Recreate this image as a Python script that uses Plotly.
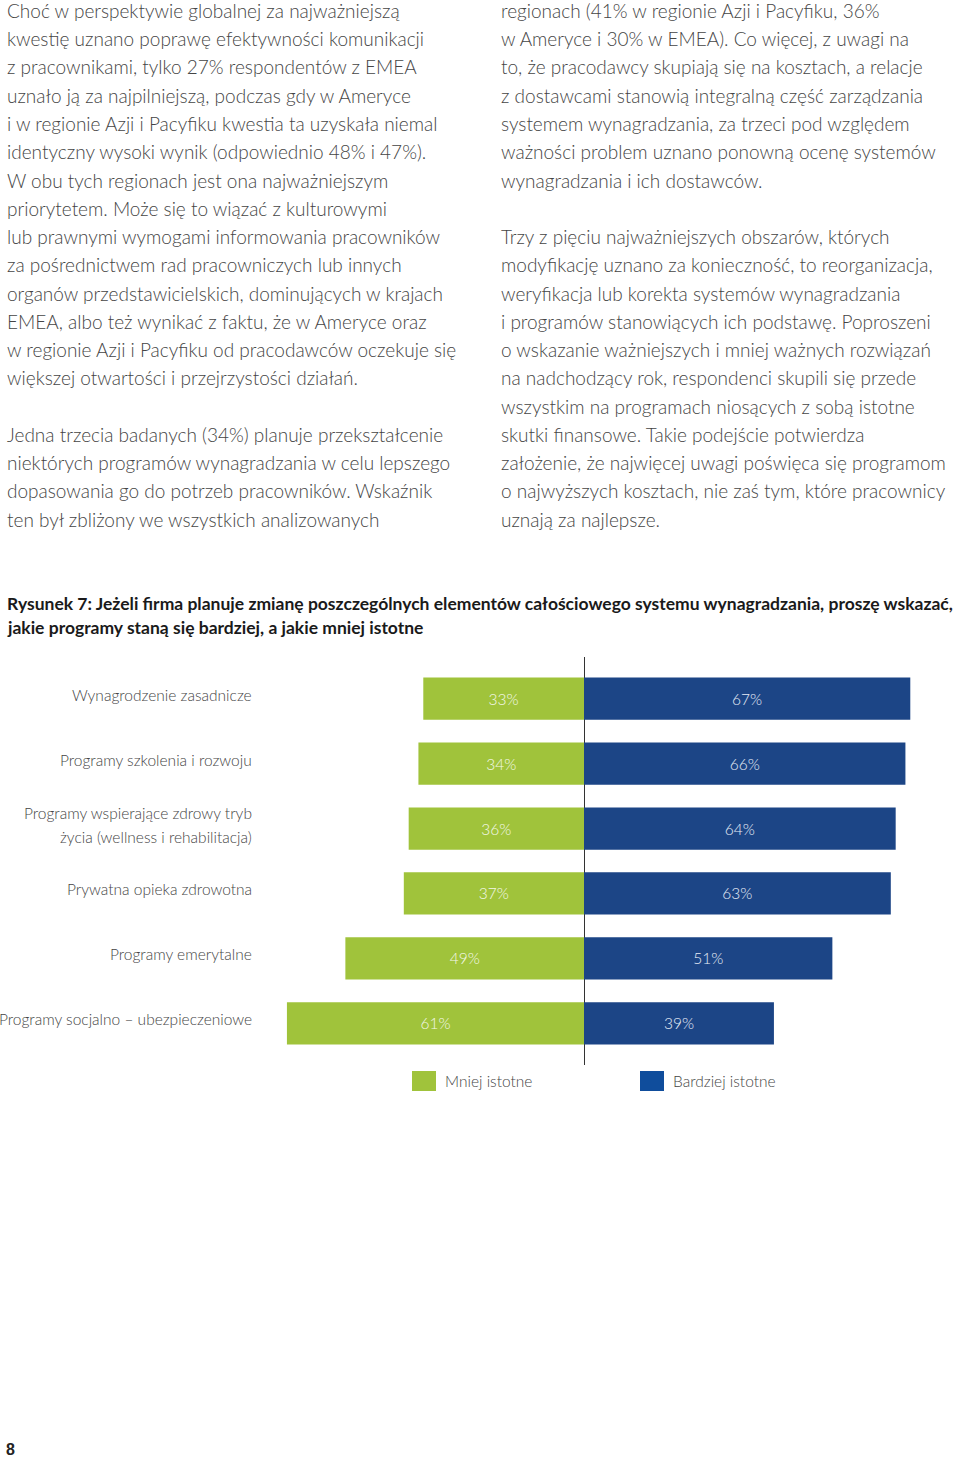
import plotly.graph_objects as go

# ---------------- data ----------------
categories = [
    "Wynagrodzenie zasadnicze",
    "Programy szkolenia i rozwoju",
    "Programy wspierające zdrowy tryb<br>życia (wellness i rehabilitacja)",
    "Prywatna opieka zdrowotna",
    "Programy emerytalne",
    "Programy socjalno – ubezpieczeniowe",
]
less_important = [33, 34, 36, 37, 49, 61]   # Mniej istotne
more_important = [67, 66, 64, 63, 51, 39]   # Bardziej istotne
series_names = ["Mniej istotne", "Bardziej istotne"]

title_lines = [
    "Rysunek 7: Jeżeli firma planuje zmianę poszczególnych elementów całościowego systemu wynagradzania, proszę wskazać,",
    "jakie programy staną się bardziej, a jakie mniej istotne",
]

left_col = [
    "Choć w perspektywie globalnej za najważniejszą",
    "kwestię uznano poprawę efektywności komunikacji",
    "z pracownikami, tylko 27% respondentów z EMEA",
    "uznało ją za najpilniejszą, podczas gdy w Ameryce",
    "i w regionie Azji i Pacyfiku kwestia ta uzyskała niemal",
    "identyczny wysoki wynik (odpowiednio 48% i 47%).",
    "W obu tych regionach jest ona najważniejszym",
    "priorytetem. Może się to wiązać z kulturowymi",
    "lub prawnymi wymogami informowania pracowników",
    "za pośrednictwem rad pracowniczych lub innych",
    "organów przedstawicielskich, dominujących w krajach",
    "EMEA, albo też wynikać z faktu, że w Ameryce oraz",
    "w regionie Azji i Pacyfiku od pracodawców oczekuje się",
    "większej otwartości i przejrzystości działań.",
    "",
    "Jedna trzecia badanych (34%) planuje przekształcenie",
    "niektórych programów wynagradzania w celu lepszego",
    "dopasowania go do potrzeb pracowników. Wskaźnik",
    "ten był zbliżony we wszystkich analizowanych",
]

right_col = [
    "regionach (41% w regionie Azji i Pacyfiku, 36%",
    "w Ameryce i 30% w EMEA). Co więcej, z uwagi na",
    "to, że pracodawcy skupiają się na kosztach, a relacje",
    "z dostawcami stanowią integralną część zarządzania",
    "systemem wynagradzania, za trzeci pod względem",
    "ważności problem uznano ponowną ocenę systemów",
    "wynagradzania i ich dostawców.",
    "",
    "Trzy z pięciu najważniejszych obszarów, których",
    "modyfikację uznano za konieczność, to reorganizacja,",
    "weryfikacja lub korekta systemów wynagradzania",
    "i programów stanowiących ich podstawę. Poproszeni",
    "o wskazanie ważniejszych i mniej ważnych rozwiązań",
    "na nadchodzący rok, respondenci skupili się przede",
    "wszystkim na programach niosących z sobą istotne",
    "skutki finansowe. Takie podejście potwierdza",
    "założenie, że najwięcej uwagi poświęca się programom",
    "o najwyższych kosztach, nie zaś tym, które pracownicy",
    "uznają za najlepsze.",
]

page_number = "8"

# ---------------- styles ----------------
W, H = 960, 1458
GREEN = "#a0c33b"
BLUE = "#1c4586"
LEGEND_BLUE = "#0f4d9c"
BODY_FONT = "Lato, 'Open Sans', sans-serif"
TEXT_COLOR = "#454545"


def yp(px):
    return 1 - px / H


def xp(px):
    return px / W


fig = go.Figure()
fig.add_trace(go.Bar(
    y=categories, x=[-v for v in less_important], orientation="h",
    name=series_names[0], marker=dict(color=GREEN, line=dict(width=0)),
    text=[f"{v}%" for v in less_important], textposition="inside",
    insidetextanchor="middle", textangle=0,
    textfont=dict(color="#f4f8e8", size=15.5, family=BODY_FONT, weight=300),
    width=0.65, showlegend=False, hoverinfo="skip",
))
fig.add_trace(go.Bar(
    y=categories, x=more_important, orientation="h",
    name=series_names[1], marker=dict(color=BLUE, line=dict(width=0)),
    text=[f"{v}%" for v in more_important], textposition="inside",
    insidetextanchor="middle", textangle=0,
    textfont=dict(color="#e6ecf6", size=15.5, family=BODY_FONT, weight=300),
    width=0.65, showlegend=False, hoverinfo="skip",
))

annotations = []

# category labels (right aligned)
for i, cat in enumerate(categories):
    lines = cat.split("<br>")
    n = len(lines)
    for j, ln in enumerate(lines):
        annotations.append(dict(
            x=xp(254), xref="paper", y=cat, yref="y",
            text=ln, showarrow=False, xanchor="right", yanchor="middle",
            yshift=((n - 1) / 2 - j) * 24 + 4,
            font=dict(family=BODY_FONT, size=15.5, color=TEXT_COLOR, weight=300),
        ))

# body text columns
for col, x0 in ((left_col, 5), (right_col, 499)):
    for i, ln in enumerate(col):
        if not ln:
            continue
        annotations.append(dict(
            x=xp(x0), xref="paper", y=yp(10.5 + 28.25 * i), yref="paper",
            text=ln, showarrow=False, xanchor="left", yanchor="middle",
            font=dict(family=BODY_FONT, size=19, color=TEXT_COLOR, weight=300),
        ))

# title
for i, ln in enumerate(title_lines):
    annotations.append(dict(
        x=xp(5), xref="paper", y=yp(603 + 24 * i), yref="paper",
        text=ln, showarrow=False, xanchor="left", yanchor="middle",
        font=dict(family="Lato, sans-serif", size=17.5, color="#1a1a1a", weight=700),
    ))

# legend
shapes = []
for name, color, sx in ((series_names[0], GREEN, 412), (series_names[1], LEGEND_BLUE, 640)):
    shapes.append(dict(type="rect", xref="paper", yref="paper",
                       x0=xp(sx), x1=xp(sx + 24), y0=yp(1091), y1=yp(1071),
                       fillcolor=color, line=dict(width=0)))
    annotations.append(dict(
        x=xp(sx + 31), xref="paper", y=yp(1081), yref="paper",
        text=name, showarrow=False, xanchor="left", yanchor="middle",
        font=dict(family=BODY_FONT, size=15.5, color=TEXT_COLOR, weight=300),
    ))

# page number
annotations.append(dict(
    x=xp(4), xref="paper", y=yp(1449), yref="paper",
    text=f"<b>{page_number}</b>", showarrow=False, xanchor="left", yanchor="middle",
    font=dict(family="'Liberation Sans', Arial, sans-serif", size=16, color="#222222"),
))

SCALE = 4.87   # px per percentage point
ZERO_PX = 584
fig.update_layout(
    width=W, height=H,
    margin=dict(l=0, r=0, t=0, b=0),
    paper_bgcolor="white", plot_bgcolor="white",
    barmode="relative", bargap=0.35,
    xaxis=dict(range=[-ZERO_PX / SCALE, (W - ZERO_PX) / SCALE], domain=[0, 1],
               showgrid=False, showticklabels=False, ticks="",
               zeroline=True, zerolinecolor="#333333", zerolinewidth=1,
               fixedrange=True),
    yaxis=dict(domain=[yp(1065), yp(657)], range=[5.64, -0.64],
               showgrid=False, showticklabels=False, ticks="", zeroline=False,
               fixedrange=True),
    annotations=annotations, shapes=shapes,
    showlegend=False,
)

fig.write_html(
    "out.html",
    config={"displayModeBar": False},
    post_script="document.body.style.margin='0';document.body.style.overflow='hidden';",
)
